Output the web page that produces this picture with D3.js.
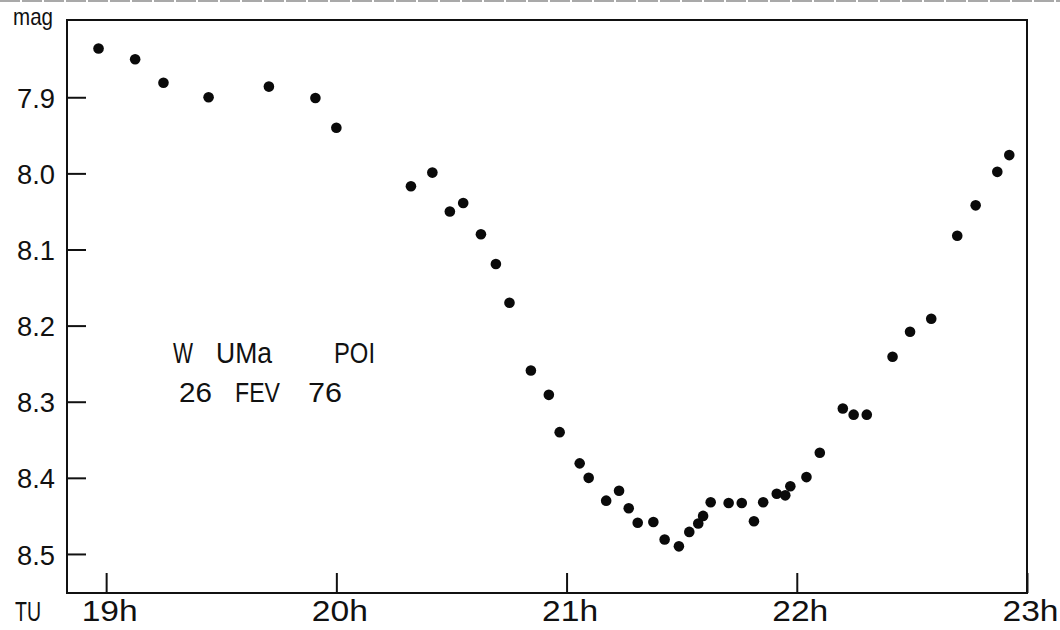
<!DOCTYPE html>
<html>
<head>
<meta charset="utf-8">
<script src="https://cdn.jsdelivr.net/npm/d3@7"></script>
<style>
  html, body { margin: 0; padding: 0; background: #fff; }
  svg { display: block; }
  text { font-family: "Liberation Sans", Arial, sans-serif; fill: #111; }
</style>
</head>
<body>
<svg id="chart" width="1060" height="630"></svg>
<script>
// ---- data (UT decimal hours, visual magnitude) ----
const times = [
  18.967, 19.126, 19.249, 19.445, 19.707, 19.909, 20.000,
  20.324, 20.417, 20.493, 20.551, 20.628, 20.693, 20.752,
  20.845, 20.923, 20.970, 21.057, 21.096, 21.172, 21.228,
  21.270, 21.309, 21.377, 21.426, 21.488, 21.533, 21.572,
  21.593, 21.626, 21.704, 21.761, 21.814, 21.854, 21.913,
  21.950, 21.972, 22.042, 22.100, 22.200, 22.247, 22.304,
  22.416, 22.492, 22.584, 22.697, 22.777, 22.871, 22.923
];
const mags = [
  7.836, 7.850, 7.881, 7.900, 7.886, 7.901, 7.940,
  8.017, 7.999, 8.050, 8.039, 8.080, 8.119, 8.170,
  8.259, 8.291, 8.340, 8.381, 8.400, 8.430, 8.417,
  8.440, 8.459, 8.458, 8.481, 8.490, 8.471, 8.460,
  8.450, 8.432, 8.433, 8.433, 8.457, 8.432, 8.421,
  8.423, 8.411, 8.399, 8.367, 8.309, 8.317, 8.317,
  8.241, 8.208, 8.191, 8.082, 8.042, 7.998, 7.976
];
const yTicks = [7.9, 8.0, 8.1, 8.2, 8.3, 8.4, 8.5];
const yTickLabels = ["7.9", "8.0", "8.1", "8.2", "8.3", "8.4", "8.5"];
const xTicks = [19, 20, 21, 22, 23];
const xTickLabels = ["19h", "20h", "21h", "22h", "23h"];
const titleLine1 = ["W", "UMa", "POI"];
const titleLine2 = ["26", "FEV", "76"];

// ---- layout ----
const svg = d3.select("#chart");
const mLeft = 67, mRight = 1027, mTop = 20, mBottom = 593;

const x = d3.scaleLinear().domain([18.83, 23]).range([mLeft, mRight]);
const y = d3.scaleLinear().domain([7.7985, 8.5513]).range([mTop, mBottom]);

// scan edge line at the very top
svg.append("line")
  .attr("x1", 0).attr("x2", 1060).attr("y1", 1).attr("y2", 1)
  .attr("stroke", "#555").attr("stroke-width", 1.2)
  .attr("stroke-dasharray", "20 2");

// frame
svg.append("rect")
  .attr("x", mLeft).attr("y", mTop)
  .attr("width", mRight - mLeft).attr("height", mBottom - mTop)
  .attr("fill", "none").attr("stroke", "#111").attr("stroke-width", 2);

// y axis (ticks inward)
const yAxis = d3.axisLeft(y)
  .tickValues(yTicks)
  .tickFormat((d, i) => yTickLabels[i])
  .tickSizeInner(-19).tickSizeOuter(0).tickPadding(12);
const gy = svg.append("g").attr("transform", `translate(${mLeft},0)`).call(yAxis);
gy.select(".domain").remove();
gy.selectAll(".tick line").attr("stroke", "#111").attr("stroke-width", 2);
gy.selectAll(".tick text")
  .attr("font-size", 28).attr("dy", "0.36em")
  .attr("textLength", 38).attr("lengthAdjust", "spacingAndGlyphs")
  .style("font-family", "'Liberation Sans', Arial, sans-serif")
  .attr("fill", "#111");

// x axis (ticks inward)
const xAxis = d3.axisBottom(x)
  .tickValues(xTicks)
  .tickFormat((d, i) => xTickLabels[i])
  .tickSizeInner(-20).tickSizeOuter(0).tickPadding(0);
const gx = svg.append("g").attr("transform", `translate(0,${mBottom})`).call(xAxis);
gx.select(".domain").remove();
gx.selectAll(".tick line").attr("stroke", "#111").attr("stroke-width", 2);
gx.selectAll(".tick text")
  .attr("font-size", 29).attr("dy", null).attr("y", 28).attr("dx", 3)
  .attr("textLength", 56).attr("lengthAdjust", "spacingAndGlyphs")
  .style("font-family", "'Liberation Sans', Arial, sans-serif")
  .attr("fill", "#111");

// axis titles
svg.append("text").attr("x", 13).attr("y", 25)
  .attr("font-size", 24).attr("textLength", 40).attr("lengthAdjust", "spacingAndGlyphs")
  .text("mag");
svg.append("text").attr("x", 15).attr("y", 621)
  .attr("font-size", 27).attr("textLength", 26).attr("lengthAdjust", "spacingAndGlyphs")
  .text("TU");

// annotation
const l1x = [173, 216, 334], l1w = [20, 56, 41];
svg.selectAll("text.t1").data(titleLine1).join("text").attr("class", "t1")
  .attr("x", (d, i) => l1x[i]).attr("y", 363)
  .attr("font-size", 29)
  .attr("textLength", (d, i) => l1w[i]).attr("lengthAdjust", "spacingAndGlyphs")
  .text(d => d);
const l2x = [179, 235, 308], l2w = [33, 45, 34];
svg.selectAll("text.t2").data(titleLine2).join("text").attr("class", "t2")
  .attr("x", (d, i) => l2x[i]).attr("y", 402)
  .attr("font-size", 27)
  .attr("textLength", (d, i) => l2w[i]).attr("lengthAdjust", "spacingAndGlyphs")
  .text(d => d);

// data points
const pts = times.map((t, i) => ({ t, m: mags[i] }));
svg.append("g").selectAll("circle").data(pts).join("circle")
  .attr("cx", d => x(d.t)).attr("cy", d => y(d.m))
  .attr("r", 5.3).attr("fill", "#0a0a0a");
</script>
</body>
</html>
